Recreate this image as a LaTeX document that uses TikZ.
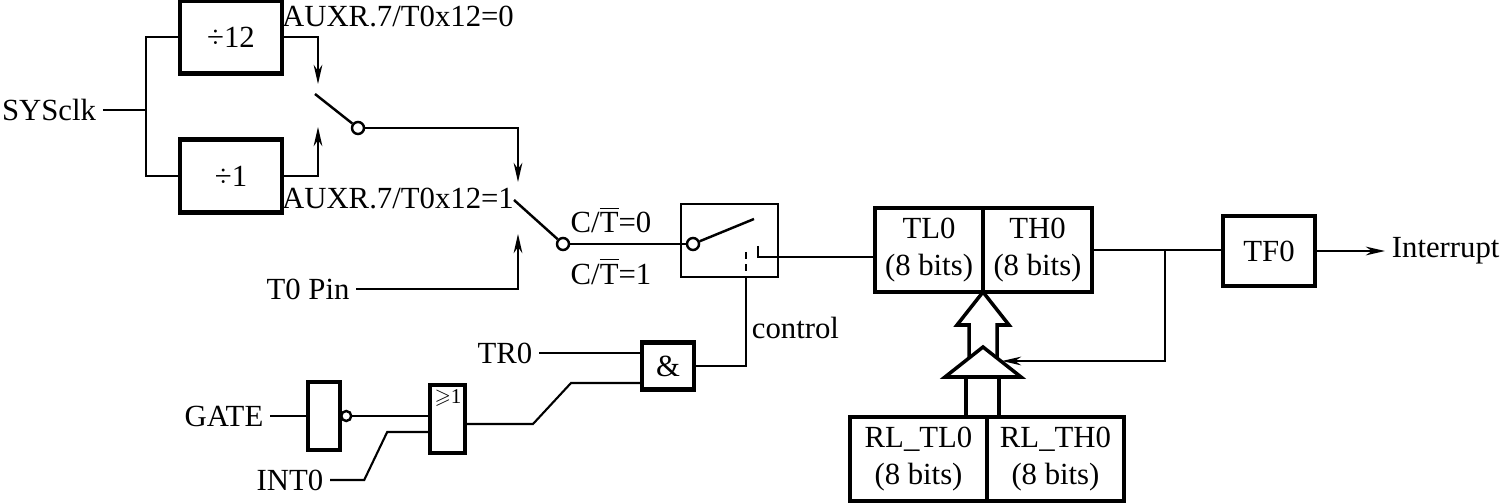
\documentclass[tikz,border=0pt]{standalone}
\usepackage{amssymb}
\usepackage{fontspec}
\setmainfont{Liberation Serif}
\usetikzlibrary{arrows.meta}

\begin{document}
\begin{tikzpicture}[x=0.02cm,y=-0.02cm,line width=1.2pt,
  font=\fontsize{17.5}{21}\selectfont,
  box/.style={draw,line width=2.4pt,outer sep=0pt,inner sep=0pt,align=center},
  pivot/.style={circle,draw,fill=white,line width=1.4pt,inner sep=0pt,minimum size=0.24cm},
  sig/.style={-{Stealth[length=11pt,width=5pt]}},
  thinline/.style={line width=0.9pt}]
\useasboundingbox (0,0) rectangle (1511,503);

% clock source and prescaler
\node (sys) at (49,110) {SYSclk};
\node[box,minimum width=2.04cm,minimum height=1.46cm] (div12) at (231,37) {÷12};
\node[box,minimum width=2.04cm,minimum height=1.46cm] (div1) at (231,176) {÷1};
\coordinate (fork) at (146,110);
\draw (sys) -- (fork);
\draw (div12) -| (fork) |- (div1);

% first switch
\node (lab0) at (398,16) {AUXR.7/T0x12=0};
\node (lab1) at (398,198) {AUXR.7/T0x12=1};
\coordinate (up12) at (318,84);
\coordinate (up1) at (318,127);
\draw[thinline,sig] (div12) -| (up12);
\draw[thinline,sig] (div1) -| (up1);
\coordinate (blade1) at (315,94);
\node[pivot] (p1) at (358,128) {};
\draw[line width=1.4pt] (blade1) -- (p1);

% second switch
\coordinate (in2a) at (518,182);
\draw[thinline,sig] (p1) -| (in2a);
\node (pin) at (308,289) {T0 Pin};
\coordinate (in2b) at (518,234);
\draw[thinline,sig] (pin) -| (in2b);
\coordinate (blade2) at (514,200);
\node[pivot] (p2) at (563,244) {};
\draw[line width=1.4pt] (blade2) -- (p2);
\node[anchor=base] (ct0) at (611,233) {C/$\overline{\mbox{T}}$=0};
\node[anchor=base] (ct1) at (611,284) {C/$\overline{\mbox{T}}$=1};

% run control switch
\node[draw,line width=1.5pt,minimum width=1.94cm,minimum height=1.46cm] (ctl) at (729.5,240.5) {};
\node[pivot] (p3) at (693,244) {};
\draw[line width=1.4pt] (p2) -- (p3);
\coordinate (blade3) at (754,219);
\draw[line width=1.4pt] (p3) -- (blade3);

% counter registers
\node[box,minimum width=2.16cm,minimum height=1.68cm] (tl0) at (929,250) {TL0\\(8 bits)};
\node[box,minimum width=2.18cm,minimum height=1.68cm,anchor=west] (th0) at (tl0.east) {TH0\\(8 bits)};
\node[box,minimum width=2.74cm,minimum height=1.68cm] (rltl) at (918.5,459) {RL\_TL0\\(8 bits)};
\node[box,minimum width=2.74cm,minimum height=1.68cm,anchor=west] (rlth) at (rltl.east) {RL\_TH0\\(8 bits)};
\coordinate (cont) at (758,246);
\coordinate (k) at (758,257);
\draw (cont) -- (k) -- (k -| tl0.west);

% gate logic
\node[box,minimum width=1.04cm,minimum height=0.94cm] (and) at (668,366) {\&};
\node (tr0) at (505,353) {TR0};
\draw (tr0) -- (tr0 -| and.west);
\node[box,minimum width=0.7cm,minimum height=1.36cm] (or) at (447.5,419) {};
\node[inner sep=0pt,font=\fontsize{12}{14}\selectfont] (ge) at (448,398) {$\geqslant$1};
\node[box,minimum width=0.64cm,minimum height=1.36cm] (not) at (324,416) {};
\node[pivot,minimum size=0.2cm,anchor=west] (bub) at (not.east) {};
\node (gate) at (224,416) {GATE};
\draw (gate) -- (not);
\draw (bub) -- (bub -| or.west);
\node (int) at (290,480) {INT0};
\draw (int.east) -- ++(34,0) -- ++(23,-48) coordinate (q) -- (q -| or.west);
\draw ([yshift=-0.1cm]or.east) -- ++(68,0) -- ++(38,-41) coordinate (r) -- (r -| and.west);
\coordinate (dsh) at (746,252);
\draw[dash pattern=on 4pt off 3pt] (dsh) -- (dsh |- ctl.south);
\draw (dsh |- ctl.south) |- (and);
\node[anchor=west] (ctrl) at (745,328) {control};

% overflow and reload
\node[box,minimum width=1.84cm,minimum height=1.4cm] (tf0) at (1269,251) {TF0};
\draw (th0.east) -- (th0.east -| tf0.west);
\node[anchor=west] (irq) at (1385,251) {Interrupt};
\draw[sig] (tf0) -- (irq);
\coordinate (fb) at (1165,250);
\coordinate (fbtip) at (1002,361);
\draw[thinline,sig] (fb) |- (fbtip);
\draw[line width=2pt,fill=white] (983,292) -- (1009,325) -- (997,325) -- (997,365)
  -- (969,365) -- (969,325) -- (957,325) -- cycle;
\draw[line width=2pt,fill=white] (983,347) -- (1021,377) -- (945,377) -- cycle;
\draw[line width=2pt] (966,377) -- (966,417);
\draw[line width=2pt] (999,377) -- (999,417);
\end{tikzpicture}
\end{document}
